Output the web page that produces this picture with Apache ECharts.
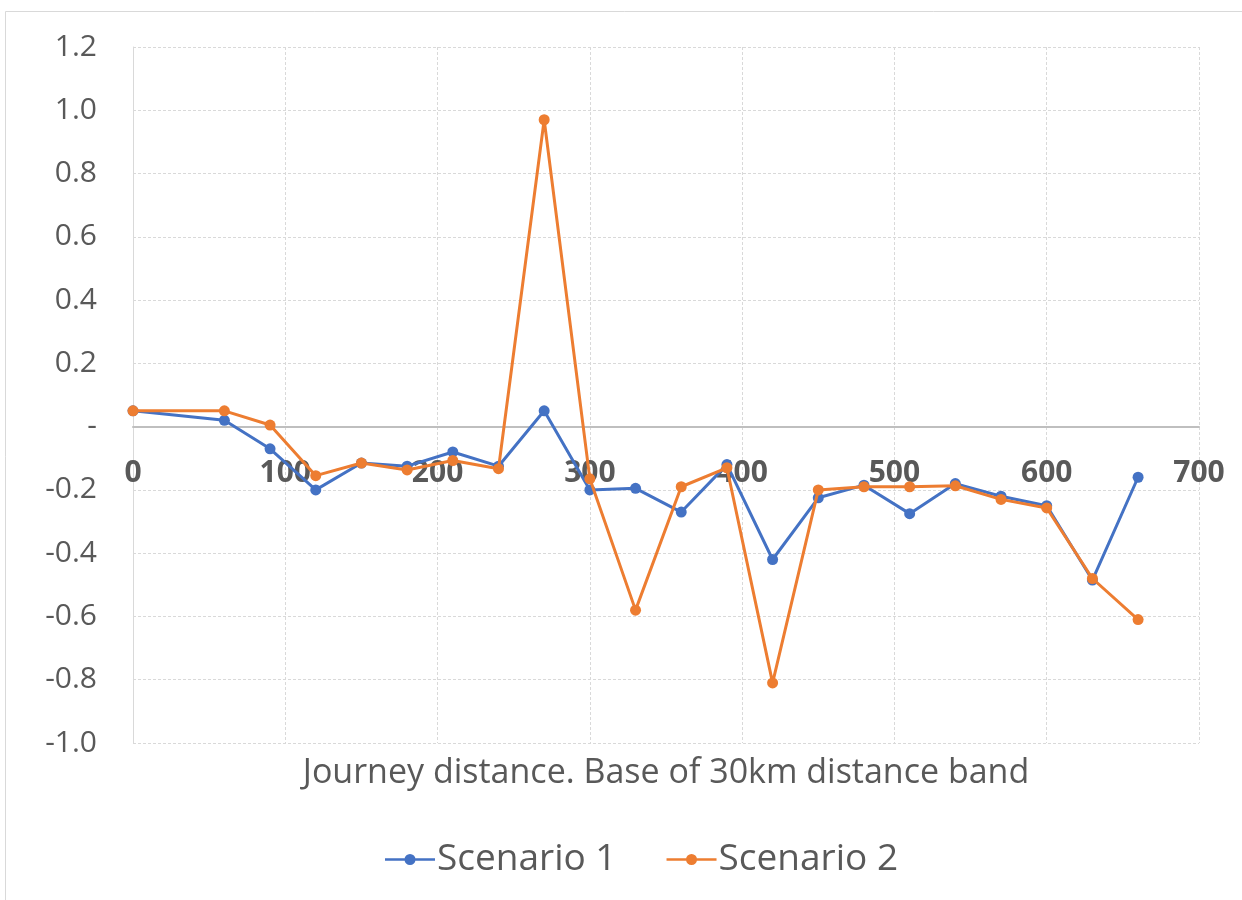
<!DOCTYPE html>
<html>
<head>
<meta charset="utf-8">
<script src="https://cdn.jsdelivr.net/npm/echarts@6/dist/echarts.min.js"></script>
<style>
html,body{margin:0;padding:0;background:#fff;}
#chart{width:1242px;height:900px;}
</style>
</head>
<body>
<div id="chart"></div>
<script>
const distances = [0, 60, 90, 120, 150, 180, 210, 240, 270, 300, 330, 360, 390, 420, 450, 480, 510, 540, 570, 600, 630, 660];
const scenario1 = [0.05, 0.02, -0.07, -0.20, -0.115, -0.125, -0.08, -0.125, 0.05, -0.20, -0.195, -0.27, -0.12, -0.42, -0.225, -0.185, -0.275, -0.18, -0.22, -0.25, -0.485, -0.16];
const scenario2 = [0.05, 0.05, 0.005, -0.155, -0.115, -0.137, -0.107, -0.133, 0.97, -0.165, -0.58, -0.19, -0.13, -0.81, -0.20, -0.19, -0.19, -0.187, -0.23, -0.257, -0.48, -0.61];
const seriesNames = ['Scenario 1', 'Scenario 2'];
const xAxisTitle = 'Journey distance. Base of 30km distance band';

const chart = echarts.init(document.getElementById('chart'));
const pair = (xs, ys) => xs.map((x, i) => [x, ys[i]]);
const fontFam = '"Open Sans", "Liberation Sans", sans-serif';
const legendIcon = 'path://M0,5 L20,5 L20,7.5 L0,7.5 Z M30,5 L50,5 L50,7.5 L30,7.5 Z M19.5,6.25 A5.5,5.5 0 1 1 30.5,6.25 A5.5,5.5 0 1 1 19.5,6.25 Z';

chart.setOption({
  animation: false,
  backgroundColor: '#fff',
  grid: { left: 133, right: 43, top: 47, bottom: 157 },
  xAxis: {
    type: 'value', min: 0, max: 700, interval: 100,
    offset: -316,
    axisLine: { onZero: false, lineStyle: { color: '#bfbfbf', width: 2 } },
    axisTick: { show: false },
    axisLabel: { margin: 31, fontSize: 30, fontWeight: 'bold', color: '#595959', fontFamily: fontFam },
    splitLine: { show: true, lineStyle: { color: '#d9d9d9', type: [3, 2], width: 1 } }
  },
  yAxis: {
    type: 'value', min: -1, max: 1.2, interval: 0.2,
    axisLine: { show: true, lineStyle: { color: '#d9d9d9', width: 1 } },
    axisTick: { show: false },
    axisLabel: {
      margin: 36, fontSize: 30, color: '#595959', fontFamily: fontFam,
      formatter: v => Math.abs(v) < 1e-9 ? '-' : v.toFixed(1)
    },
    splitLine: { show: true, lineStyle: { color: '#d9d9d9', type: [3, 2], width: 1 } }
  },
  legend: {
    bottom: 17, left: 380,
    itemWidth: 50, itemHeight: 12, itemGap: 50,
    textStyle: { fontSize: 37, color: '#595959', fontFamily: fontFam, padding: [0, 0, 0, -3] },
    data: seriesNames.map(n => ({ name: n, icon: legendIcon }))
  },
  graphic: [
    { type: 'rect', shape: { x: 5.5, y: 11.5, width: 1300, height: 1000 }, style: { fill: 'none', stroke: '#d9d9d9', lineWidth: 1 }, silent: true, z: -1 },
    { type: 'text', x: 666, y: 773, style: { text: xAxisTitle, fontSize: 34, fill: '#595959', fontFamily: fontFam, align: 'center', verticalAlign: 'middle' } }
  ],
  series: [
    { name: seriesNames[0], type: 'line', data: pair(distances, scenario1), symbol: 'circle', symbolSize: 11,
      lineStyle: { color: '#4472C4', width: 3 }, itemStyle: { color: '#4472C4' }, z: 3 },
    { name: seriesNames[1], type: 'line', data: pair(distances, scenario2), symbol: 'circle', symbolSize: 11,
      lineStyle: { color: '#ED7D31', width: 3 }, itemStyle: { color: '#ED7D31' }, z: 4 }
  ]
});
</script>
</body>
</html>
